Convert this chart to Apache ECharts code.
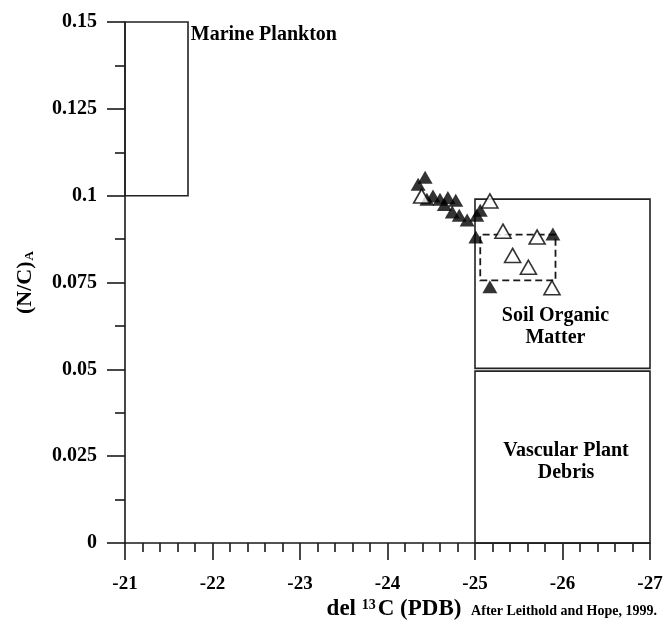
<!DOCTYPE html>
<html><head><meta charset="utf-8">
<script src="https://cdn.jsdelivr.net/npm/echarts@6/dist/echarts.min.js"></script>
<style>html,body{margin:0;padding:0;background:#fff}#c{width:666px;height:626px}</style>
</head><body><div id="c"></div>
<script>
// del13C (x) and (N/C)A (y) values
const filledPoints = [
  [-24.43,0.1053],[-24.35,0.1033],[-24.45,0.0990],[-24.52,0.0999],[-24.60,0.0990],
  [-24.69,0.0995],[-24.78,0.0987],[-24.65,0.0975],[-24.74,0.0953],[-24.82,0.0944],
  [-24.91,0.0930],[-25.02,0.0944],[-25.06,0.0958],[-25.01,0.0881],[-25.17,0.0738],
  [-25.89,0.0890]
];
const openPoints = [
  [-24.39,0.0999],[-25.17,0.0985],[-25.32,0.0898],[-25.71,0.0881],
  [-25.43,0.0828],[-25.61,0.0794],[-25.88,0.0735]
];
const regionNames = ['Marine Plankton', 'Soil Organic\nMatter', 'Vascular Plant\nDebris'];
const regionX = [[-21, -21.72], [-25, -27], [-25, -27]];
const regionY = [[0.1, 0.15], [0.0503, 0.099], [0, 0.0495]];
const sampleBoxX = [-25.06, -25.92];
const sampleBoxY = [0.0756, 0.0888];
const xMin = -27, xMax = -21, xStep = 1;
const yMin = 0, yMax = 0.15, yStep = 0.025;

const serif = '"Liberation Serif","Times New Roman",serif';
const ink = '#1a1a1a';
const regionLabelPos = [['100%', 3], ['46%', '75%'], ['52%', '53%']];

const areaData = regionNames.map((name, i) => {
  const isTop = i === 0;
  return [
    { coord: [regionX[i][0], regionY[i][0]], name: name,
      label: isTop ? { position: regionLabelPos[i], offset: [2, 0], align: 'left', verticalAlign: 'top' }
                   : { position: regionLabelPos[i], align: 'center', verticalAlign: 'middle' } },
    { coord: [regionX[i][1], regionY[i][1]] }
  ];
});
areaData.push([
  { coord: [sampleBoxX[0], sampleBoxY[0]], name: '',
    itemStyle: { borderType: [7, 4], borderWidth: 1.8, borderColor: ink, color: 'rgba(0,0,0,0)' },
    label: { show: false } },
  { coord: [sampleBoxX[1], sampleBoxY[1]] }
]);

const chart = echarts.init(document.getElementById('c'), null, { renderer: 'canvas' });
const axisLine = { show: true, onZero: false, lineStyle: { color: ink, width: 1.6 } };
chart.setOption({
  backgroundColor: '#fff',
  animation: false,
  grid: { left: 125, right: 16, top: 22, bottom: 80 },
  xAxis: {
    type: 'value', min: xMin, max: xMax, interval: xStep, inverse: true,
    axisLine: axisLine,
    axisTick: { show: true, length: 17, lineStyle: { color: ink, width: 1.6 } },
    minorTick: { show: true, splitNumber: 5, length: 9, lineStyle: { color: ink, width: 1.6 } },
    splitLine: { show: false }, minorSplitLine: { show: false },
    axisLabel: { margin: 31, color: '#000', fontFamily: serif, fontWeight: 'bold', fontSize: 19 },
    name: 'del {sup|13}C (PDB)',
    nameLocation: 'middle', nameGap: 50,
    nameTextStyle: {
      color: '#000', fontFamily: serif, fontWeight: 'bold', fontSize: 23, padding: [0, 0, 0, 13],
      rich: { sup: { fontFamily: serif, fontWeight: 'bold', fontSize: 14, verticalAlign: 'top', padding: [0, 2, 9, 0], color: '#000' } }
    }
  },
  yAxis: {
    type: 'value', min: yMin, max: yMax, interval: yStep,
    axisLine: axisLine,
    axisTick: { show: true, length: 18, lineStyle: { color: ink, width: 1.6 } },
    minorTick: { show: true, splitNumber: 2, length: 10, lineStyle: { color: ink, width: 1.6 } },
    splitLine: { show: false }, minorSplitLine: { show: false },
    axisLabel: { margin: 28, color: '#000', fontFamily: serif, fontWeight: 'bold', fontSize: 20,
      formatter: v => String(+v.toFixed(3)) },
    name: '(N/C){sub|A}',
    nameLocation: 'middle', nameGap: 89, nameRotate: 90,
    nameTextStyle: {
      color: '#000', fontFamily: serif, fontWeight: 'bold', fontSize: 22,
      rich: { sub: { fontFamily: serif, fontWeight: 'bold', fontSize: 13, verticalAlign: 'bottom', padding: [9, 0, 0, 1], color: '#000' } }
    }
  },
  graphic: [{
    type: 'text', right: 9, top: 604,
    style: { text: 'After Leithold and Hope, 1999.', fill: '#000', font: 'bold 14px ' + serif }
  }],
  series: [
    {
      type: 'scatter', name: 'filled', symbol: 'triangle', symbolSize: [15, 13],
      itemStyle: { color: '#000' }, data: filledPoints, z: 3,
      markArea: {
        silent: true,
        itemStyle: { color: 'rgba(0,0,0,0)', borderColor: '#222', borderWidth: 1.6 },
        label: { show: true, color: '#000', fontFamily: serif, fontWeight: 'bold', fontSize: 20, lineHeight: 22,
                 formatter: p => p.name },
        emphasis: { disabled: true },
        data: areaData
      }
    },
    {
      type: 'scatter', name: 'open', symbol: 'triangle', symbolSize: [16, 14],
      itemStyle: { color: '#fff', borderColor: '#000', borderWidth: 1.6 }, data: openPoints, z: 4
    }
  ]
});
</script></body></html>
